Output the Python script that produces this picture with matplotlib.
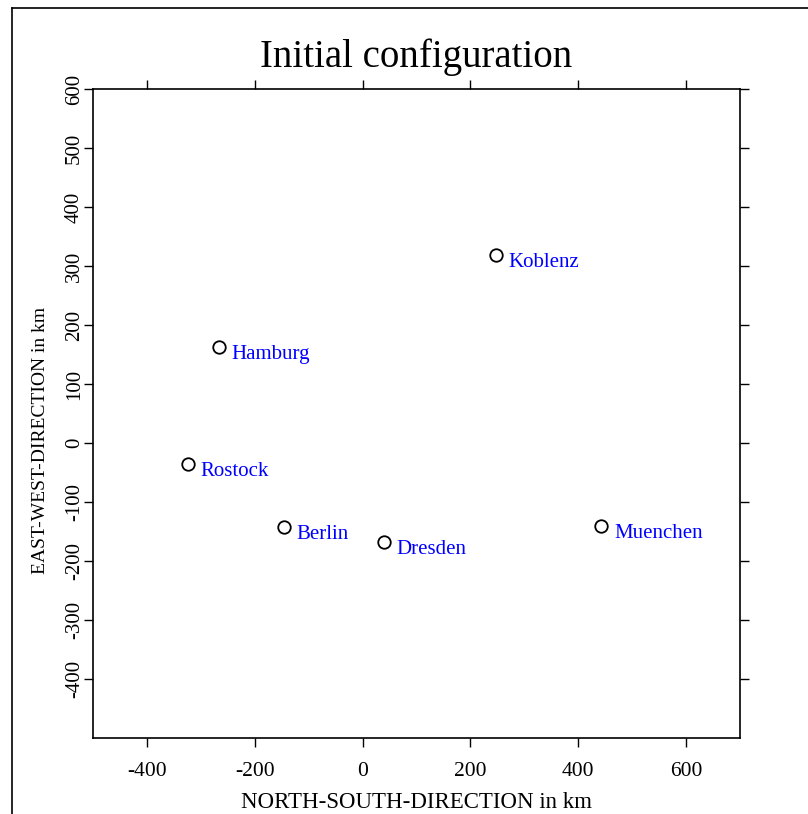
import matplotlib
matplotlib.use("Agg")
import matplotlib.pyplot as plt
from matplotlib.lines import Line2D

# city coordinates in km
cities = ["Koblenz", "Hamburg", "Rostock", "Berlin", "Dresden", "Muenchen"]
north_south = [248, -267, -324, -146, 39, 443]
east_west = [318, 162, -36, -143, -168, -141]

x_ticks = [-400, -200, 0, 200, 400, 600]
y_ticks = [-400, -300, -200, -100, 0, 100, 200, 300, 400, 500, 600]

plt.rcParams["font.family"] = ["Liberation Serif", "DejaVu Serif"]

W, H = 808, 814
fig = plt.figure(figsize=(W / 100, H / 100), dpi=100)
ax = fig.add_axes([93 / W, 1 - 738 / H, (740 - 93) / W, (738 - 89) / H])

ax.plot(north_south, east_west, linestyle="none", marker="o", markersize=9,
        markerfacecolor="white", markeredgecolor="black", markeredgewidth=1.3)
for name, x, y in zip(cities, north_south, east_west):
    ax.annotate(name, (x, y), xytext=(9, -5), textcoords="offset points",
                ha="left", va="center", color="blue", fontsize=15)

ax.set_xlim(-500, 700)
ax.set_ylim(-500, 600)
ax.set_xticks(x_ticks)
ax.set_yticks(y_ticks)
ax.set_xticklabels([str(v) for v in x_ticks], fontsize=15.5)
ax.set_yticklabels([str(v) for v in y_ticks], rotation=90, va="center", fontsize=15)

ax.tick_params(direction="out", length=6.5, width=1.0,
               top=True, right=True, labeltop=False, labelright=False)
ax.tick_params(axis="x", pad=10.5)
ax.tick_params(axis="y", pad=0)
for sp in ax.spines.values():
    sp.set_linewidth(1.2)

ax.set_title("Initial configuration", fontsize=28, pad=16)
ax.set_xlabel("NORTH-SOUTH-DIRECTION in km", fontsize=16.5)
ax.set_ylabel("EAST-WEST-DIRECTION in km", fontsize=14)
ax.yaxis.set_label_coords(-0.068, 0.458)
ax.xaxis.set_label_coords(0.5, -0.083)

# outer frame (only the top and left edges fall inside the picture)
fig.add_artist(Line2D([12 / W, 1.0], [1 - 8 / H, 1 - 8 / H], color="black", lw=1.2))
fig.add_artist(Line2D([12 / W, 12 / W], [0.0, 1 - 8 / H], color="black", lw=1.2))

fig.savefig("out.png", dpi=100)
